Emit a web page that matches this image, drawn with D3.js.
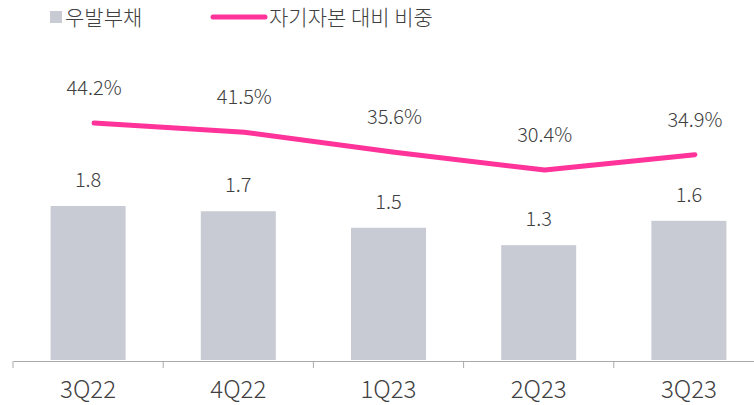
<!DOCTYPE html>
<html><head><meta charset="utf-8">
<script src="https://cdn.jsdelivr.net/npm/d3@7"></script>
<style>
html,body{margin:0;padding:0;background:#fff;}
text{font-family:"Noto Sans CJK KR","Noto Sans",sans-serif;}
</style></head>
<body><svg id="c" width="754" height="405"></svg>
<script>
const categories = ["3Q22","4Q22","1Q23","2Q23","3Q23"];
const debtValues = [1.77, 1.71, 1.52, 1.32, 1.60];
const debtLabels = ["1.8","1.7","1.5","1.3","1.6"];
const ratioValues = [44.2, 41.5, 35.6, 30.4, 34.9];
const seriesNames = ["우발부채", "자기자본 대비 비중"];

const svg = d3.select("#c");
const x = d3.scaleBand().domain(categories).range([13, 764]).paddingInner(0).paddingOuter(0);
const yBar = d3.scaleLinear().domain([0, 2]).range([360, 186]);
const yLine = d3.scaleLinear().domain([30.4, 44.2]).range([170, 123]);
const barW = 75;

// bars
svg.selectAll("rect.bar").data(categories).enter().append("rect")
  .attr("x", (d) => x(d) + x.bandwidth()/2 - barW/2)
  .attr("y", (d,i) => yBar(debtValues[i]))
  .attr("width", barW)
  .attr("height", (d,i) => 360 - yBar(debtValues[i]))
  .attr("fill", "#c9cbd4");

// axis
const axis = d3.axisBottom(x).tickSize(0).tickFormat("");
const g = svg.append("g").attr("transform","translate(0,361)").call(axis);
g.select(".domain").attr("stroke","#aaaaaa").attr("stroke-width",1.2);
g.selectAll(".tick").remove();
svg.selectAll("line.tk").data(categories).enter().append("line")
  .attr("x1", d => x(d)).attr("x2", d => x(d))
  .attr("y1", 361).attr("y2", 368)
  .attr("stroke","#aaaaaa").attr("stroke-width",1);
svg.selectAll("text.cat").data(categories).enter().append("text")
  .attr("x", d => x(d) + x.bandwidth()/2)
  .attr("y", 398)
  .attr("text-anchor","middle")
  .attr("font-size", 24)
  .attr("font-weight", 300)
  .attr("fill","#404040")
  .text(d => d);

// bar labels
svg.selectAll("text.bl").data(categories).enter().append("text")
  .attr("x", d => x(d) + x.bandwidth()/2)
  .attr("y", (d,i) => yBar(debtValues[i]) - 19)
  .attr("text-anchor","middle")
  .attr("font-size", 20)
  .attr("font-weight", 300)
  .attr("fill","#404040")
  .text((d,i) => debtLabels[i]);

// line
const lx = (d) => x(d) + x.bandwidth()/2 + 6;
const line = d3.line().x((d,i) => lx(categories[i])).y(d => yLine(d));
svg.append("path").datum(ratioValues)
  .attr("d", line)
  .attr("fill","none")
  .attr("stroke","#ff3399")
  .attr("stroke-width",5)
  .attr("stroke-linecap","round")
  .attr("stroke-linejoin","round");

svg.selectAll("text.pl").data(categories).enter().append("text")
  .attr("x", d => lx(d))
  .attr("y", (d,i) => yLine(ratioValues[i]) - 28)
  .attr("text-anchor","middle")
  .attr("font-size", 20)
  .attr("font-weight", 300)
  .attr("fill","#404040")
  .text((d,i) => ratioValues[i].toFixed(1) + "%");

// legend
svg.append("rect").attr("x",50).attr("y",11).attr("width",12).attr("height",12).attr("fill","#c9cbd4");
svg.append("text").attr("x",65).attr("y",25).attr("font-size",21).attr("font-weight",300).attr("fill","#404040").text(seriesNames[0]);
svg.append("line").attr("x1",213).attr("x2",265).attr("y1",17).attr("y2",17)
  .attr("stroke","#ff3399").attr("stroke-width",5).attr("stroke-linecap","round");
svg.append("text").attr("x",269).attr("y",25).attr("font-size",21).attr("font-weight",300).attr("fill","#404040").text(seriesNames[1]);
</script></body></html>
